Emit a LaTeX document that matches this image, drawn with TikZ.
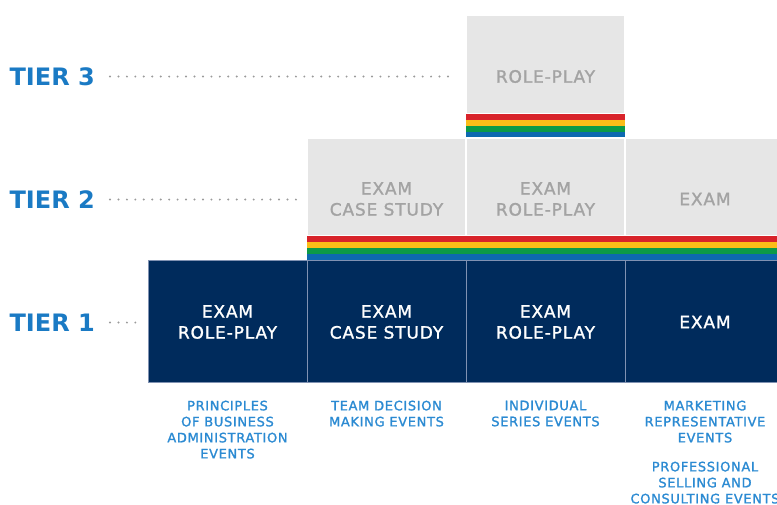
\documentclass[tikz,border=0pt]{standalone}
\usepackage{fontspec}
\setmainfont{DejaVu Sans}[LetterSpace=5, FakeBold=1.4]
\newfontfamily\tierfont{DejaVu Sans}
\definecolor{navy}{HTML}{002B5C}
\definecolor{cellgray}{HTML}{E6E6E6}
\definecolor{txtgray}{HTML}{A3A3A3}
\definecolor{tierblue}{HTML}{1A7AC4}
\definecolor{evblue}{HTML}{2B8AD2}
\definecolor{sred}{HTML}{D8232A}
\definecolor{syellow}{HTML}{FBBD18}
\definecolor{sgreen}{HTML}{0C9A48}
\definecolor{sblue}{HTML}{0D69B0}
\definecolor{navyline}{HTML}{8092B2}
\definecolor{dotgray}{HTML}{9A9A9A}
\tikzset{
  graycell/.style={fill=cellgray, draw=white, line width=1.5pt, inner sep=0pt, outer sep=0pt, minimum width=159pt, anchor=north west},
  navycell/.style={fill=navy, draw=navyline, line width=0.8pt, inner sep=0pt, outer sep=0pt, minimum width=159pt, minimum height=122pt, anchor=north west},
  graytext/.style={text=txtgray, font=\fontsize{17}{21}\selectfont, align=center, inner sep=0pt},
  whitetext/.style={text=white, font=\fontsize{17}{21}\selectfont, align=center, inner sep=0pt},
  evtext/.style={text=evblue, font=\fontsize{13}{16}\selectfont, align=center, inner sep=0pt, anchor=north},
  tierlabel/.style={text=tierblue, font=\tierfont\bfseries\fontsize{24}{28}\selectfont, inner sep=0pt, anchor=east},
  dotline/.style={dotgray, line width=2.2pt, line cap=round, dash pattern=on 0pt off 8.45pt},
}
\begin{document}
\begin{tikzpicture}[x=1pt,y=-1pt]
\useasboundingbox (0,0) rectangle (777,504);
\clip (0,0) rectangle (777,504);
% tier 3
\node[graycell, minimum height=99pt] (t3) at (466,15) {};
\fill[sred] (466,114) rectangle (625,120);
\fill[syellow] (466,120) rectangle (625,126);
\fill[sgreen] (466,126) rectangle (625,132);
\fill[sblue] (466,132) rectangle (625,138);
% tier 2
\node[graycell, minimum height=98pt] (t2a) at (307,138) {};
\node[graycell, minimum height=98pt] (t2b) at (466,138) {};
\node[graycell, minimum height=98pt] (t2c) at (625,138) {};
\fill[sred] (307,236) rectangle (785,242);
\fill[syellow] (307,242) rectangle (785,248);
\fill[sgreen] (307,248) rectangle (785,254);
\fill[sblue] (307,254) rectangle (785,260);
% tier 1
\node[navycell] (t1a) at (148,260) {};
\node[navycell] (t1b) at (307,260) {};
\node[navycell] (t1c) at (466,260) {};
\node[navycell] (t1d) at (625,260) {};
% cell texts
\node[graytext] (t3txt) at (545.5,76.5) {ROLE-PLAY};
\node[graytext] (t2atxt) at (386.5,199) {EXAM\\CASE STUDY};
\node[graytext] (t2btxt) at (545.5,199) {EXAM\\ROLE-PLAY};
\node[graytext] (t2ctxt) at (705,199) {EXAM};
\node[whitetext] (t1atxt) at (227.5,322) {EXAM\\ROLE-PLAY};
\node[whitetext] (t1btxt) at (386.5,322) {EXAM\\CASE STUDY};
\node[whitetext] (t1ctxt) at (545.5,322) {EXAM\\ROLE-PLAY};
\node[whitetext] (t1dtxt) at (705,322) {EXAM};
% tier labels
\node[tierlabel] (tier3) at (95,76.5) {TIER 3};
\node[tierlabel] (tier2) at (95,199.5) {TIER 2};
\node[tierlabel] (tier1) at (95,322.5) {TIER 1};
\draw[dotline, shorten <=15pt, shorten >=17pt] (tier3.east) -- (tier3.east -| t3.west);
\draw[dotline, shorten <=15pt, shorten >=8pt] (tier2.east) -- (tier2.east -| t2a.west);
\draw[dotline, shorten <=15pt, shorten >=7pt] (tier1.east) -- (tier1.east -| t1a.west);
% event texts
\node[evtext] (ev1) at (227.5,400.5) {PRINCIPLES\\OF BUSINESS\\ADMINISTRATION\\EVENTS};
\node[evtext] (ev2) at (386.5,400.5) {TEAM DECISION\\MAKING EVENTS};
\node[evtext] (ev3) at (545.5,400.5) {INDIVIDUAL\\SERIES EVENTS};
\node[evtext] (ev4) at (705,400.5) {MARKETING\\REPRESENTATIVE\\EVENTS};
\node[evtext] (ev5) at (705,461.5) {PROFESSIONAL\\SELLING AND\\CONSULTING EVENTS};
\end{tikzpicture}
\end{document}
